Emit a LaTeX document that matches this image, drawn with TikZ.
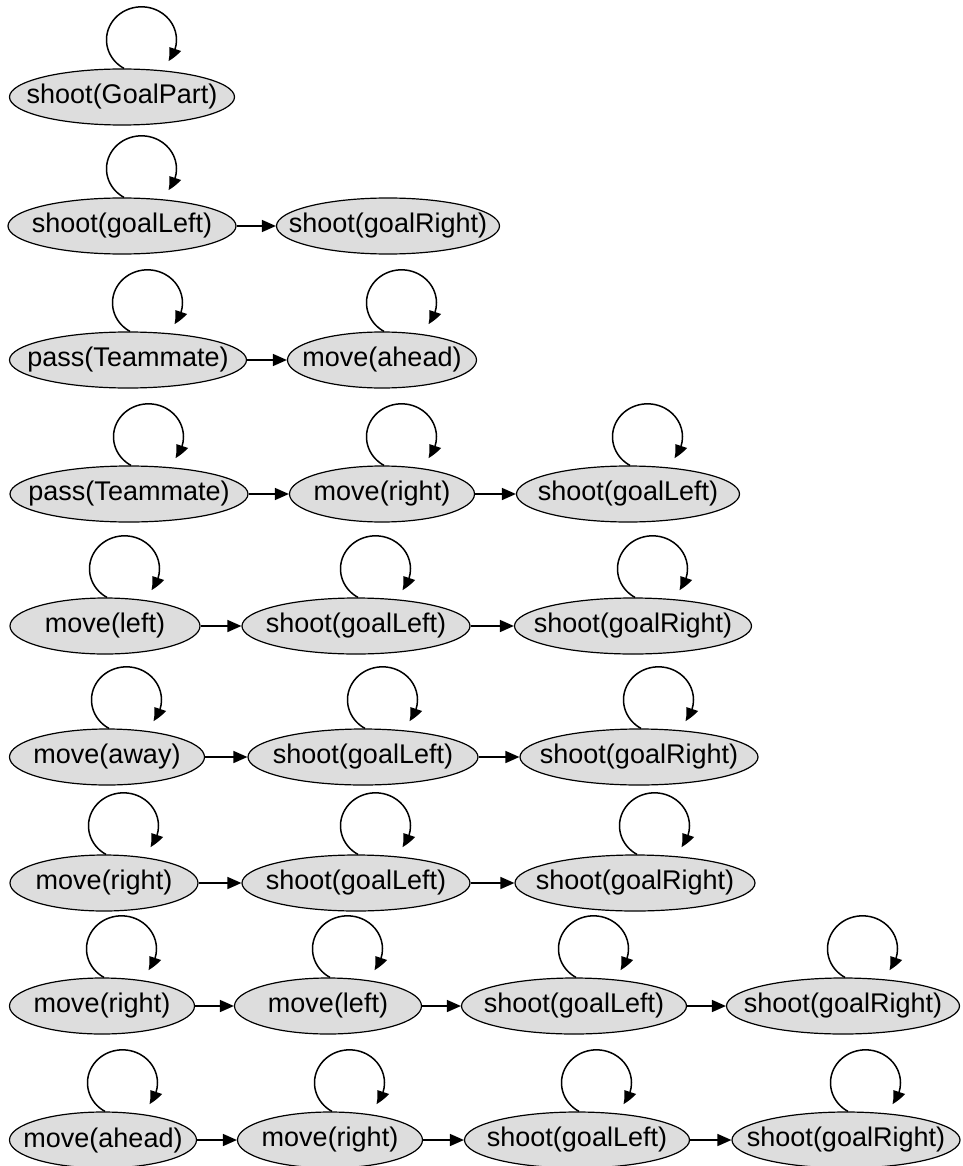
\documentclass[tikz,border=0pt]{standalone}
\usepackage{fontspec}
\setmainfont{Liberation Sans}
\usetikzlibrary{shapes.geometric,arrows.meta,bending}
\definecolor{nodefill}{RGB}{221,221,221}
\newcommand\tx[1]{\makebox[0pt]{#1}}
\tikzset{
  st/.style={ellipse, draw, line width=1.2pt, fill=nodefill, inner sep=0pt,
    minimum height=56pt, font=\fontsize{27}{30}\selectfont},
  arr/.style={line width=1.5pt, -{Triangle[length=14pt,width=12pt,bend]}}
}
\newcommand\sloop[1]{\draw[arr] ([shift={(2,0)}]#1.north) arc[start angle=-240, end angle=40, x radius=35, y radius=33];}
\begin{document}
\begin{tikzpicture}[x=1pt,y=-1pt]
\useasboundingbox (0,0) rectangle (962,1166);
% row 1
\node[st, minimum width=225pt] (a1) at (122,97) {\tx{shoot(GoalPart)}};
\sloop{a1}
% row 2
\node[st, minimum width=228pt] (b1) at (122,226) {\tx{shoot(goalLeft)}};
\node[st, minimum width=223pt] (b2) at (388,226) {\tx{shoot(goalRight)}};
\sloop{b1}
\draw[arr] (b1) -- (b2);
% row 3
\node[st, minimum width=237pt] (c1) at (128,360) {\tx{pass(Teammate)}};
\node[st, minimum width=189pt] (c2) at (382,360) {\tx{move(ahead)}};
\sloop{c1}\sloop{c2}
\draw[arr] (c1) -- (c2);
% row 4
\node[st, minimum width=238pt] (d1) at (129,494) {\tx{pass(Teammate)}};
\node[st, minimum width=185pt] (d2) at (382,494) {\tx{move(right)}};
\node[st, minimum width=223pt] (d3) at (628,494) {\tx{shoot(goalLeft)}};
\sloop{d1}\sloop{d2}\sloop{d3}
\draw[arr] (d1) -- (d2);
\draw[arr] (d2) -- (d3);
% row 5
\node[st, minimum width=190pt] (e1) at (105,626) {\tx{move(left)}};
\node[st, minimum width=228pt] (e2) at (356,626) {\tx{shoot(goalLeft)}};
\node[st, minimum width=237pt] (e3) at (633,626) {\tx{shoot(goalRight)}};
\sloop{e1}\sloop{e2}\sloop{e3}
\draw[arr] (e1) -- (e2);
\draw[arr] (e2) -- (e3);
% row 6
\node[st, minimum width=195pt] (f1) at (107,757) {\tx{move(away)}};
\node[st, minimum width=230pt] (f2) at (363,757) {\tx{shoot(goalLeft)}};
\node[st, minimum width=238pt] (f3) at (639,757) {\tx{shoot(goalRight)}};
\sloop{f1}\sloop{f2}\sloop{f3}
\draw[arr] (f1) -- (f2);
\draw[arr] (f2) -- (f3);
% row 7
\node[st, minimum width=188pt] (g1) at (104,883) {\tx{move(right)}};
\node[st, minimum width=228pt] (g2) at (356,883) {\tx{shoot(goalLeft)}};
\node[st, minimum width=240pt] (g3) at (635,883) {\tx{shoot(goalRight)}};
\sloop{g1}\sloop{g2}\sloop{g3}
\draw[arr] (g1) -- (g2);
\draw[arr] (g2) -- (g3);
% row 8
\node[st, minimum width=185pt] (h1) at (102,1006) {\tx{move(right)}};
\node[st, minimum width=187pt] (h2) at (328,1006) {\tx{move(left)}};
\node[st, minimum width=225pt] (h3) at (574,1006) {\tx{shoot(goalLeft)}};
\node[st, minimum width=233pt] (h4) at (843,1006) {\tx{shoot(goalRight)}};
\sloop{h1}\sloop{h2}\sloop{h3}\sloop{h4}
\draw[arr] (h1) -- (h2);
\draw[arr] (h2) -- (h3);
\draw[arr] (h3) -- (h4);
% row 9
\node[st, minimum width=187pt] (i1) at (103,1140) {\tx{move(ahead)}};
\node[st, minimum width=185pt] (i2) at (330,1140) {\tx{move(right)}};
\node[st, minimum width=225pt] (i3) at (577,1140) {\tx{shoot(goalLeft)}};
\node[st, minimum width=228pt] (i4) at (846,1140) {\tx{shoot(goalRight)}};
\sloop{i1}\sloop{i2}\sloop{i3}\sloop{i4}
\draw[arr] (i1) -- (i2);
\draw[arr] (i2) -- (i3);
\draw[arr] (i3) -- (i4);
\end{tikzpicture}
\end{document}
